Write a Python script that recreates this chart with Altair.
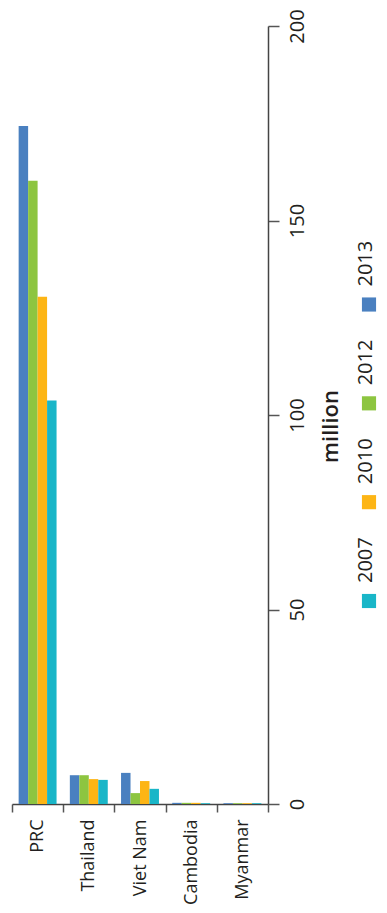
import altair as alt
import pandas as pd

countries = ["PRC", "Thailand", "Viet Nam", "Cambodia", "Myanmar"]
years = ["2013", "2012", "2010", "2007"]
v2013 = [174.3, 7.4, 8.0, 0.3, 0.2]
v2012 = [160.2, 7.4, 2.8, 0.3, 0.2]
v2010 = [130.4, 6.4, 5.9, 0.3, 0.2]
v2007 = [103.7, 6.2, 3.9, 0.2, 0.2]
colors = ["#4A80C0", "#8DC540", "#FDB515", "#19B6C8"]
y_ticks = [0, 50, 100, 150, 200]

rows = []
for year, vals in zip(years, [v2013, v2012, v2010, v2007]):
    for c, v in zip(countries, vals):
        rows.append({"country": c, "year": year, "value": v})
df = pd.DataFrame(rows)

FONT = "Open Sans"
TXT = "#231F20"
H = 778
color_scale = alt.Scale(domain=years, range=colors)

main = alt.Chart(df).mark_bar().encode(
    x=alt.X(
        "country:N", sort=countries,
        scale=alt.Scale(paddingInner=0, paddingOuter=0),
        axis=alt.Axis(
            title=None, labelAngle=270, labelAlign="right", labelBaseline="middle",
            tickBand="extent", tickSize=8, labelPadding=7, labelFontSize=18,
            labelFont=FONT, labelColor=TXT, domainColor="#444", tickColor="#555",
            domainWidth=1.5, tickWidth=1.5, labelOverlap=False,
        ),
    ),
    xOffset=alt.XOffset("year:N", sort=years,
                        scale=alt.Scale(paddingInner=0, paddingOuter=0.7)),
    y=alt.Y(
        "value:Q", scale=alt.Scale(domain=[0, 200], nice=False),
        axis=alt.Axis(
            orient="right", values=y_ticks, grid=False, title="million",
            titleAngle=270, titleAlign="center", titleBaseline="middle",
            titleX=62, titleY=400, titleFont=FONT, titleFontSize=22,
            titleFontWeight=600, titleColor=TXT,
            labelAngle=270, labelAlign="center", labelBaseline="top",
            labelPadding=8, tickSize=11, labelFontSize=20, labelFont=FONT,
            labelColor=TXT, domainColor="#444", tickColor="#555",
            domainWidth=1.5, tickWidth=1.5,
        ),
    ),
    color=alt.Color("year:N", scale=color_scale, legend=None),
).properties(width=256, height=H)

# legend entries, stacked in the order of the years list
leg_df = pd.DataFrame({"year": years, "rank": list(range(len(years)))})
ly = alt.Y("rank:Q", axis=None,
           scale=alt.Scale(domain=[-2.818, 5.054], reverse=True, nice=False, zero=False))
sq = alt.Chart(leg_df).mark_square(size=200, opacity=1).encode(
    y=ly, color=alt.Color("year:N", scale=color_scale, legend=None)
)
tx = alt.Chart(leg_df).mark_text(
    angle=270, align="left", baseline="middle", dx=18, dy=-3,
    fontSize=20, font=FONT, color=TXT,
).encode(y=ly, text="year:N")
legend = (sq + tx).properties(width=16, height=H)

chart = alt.hconcat(main, legend, spacing=93, bounds="flush").properties(
    padding={"left": -5, "top": 0, "right": 0, "bottom": 0}
).configure_view(stroke=None)

chart.save("out.html", embed_options={"renderer": "svg", "actions": False})
